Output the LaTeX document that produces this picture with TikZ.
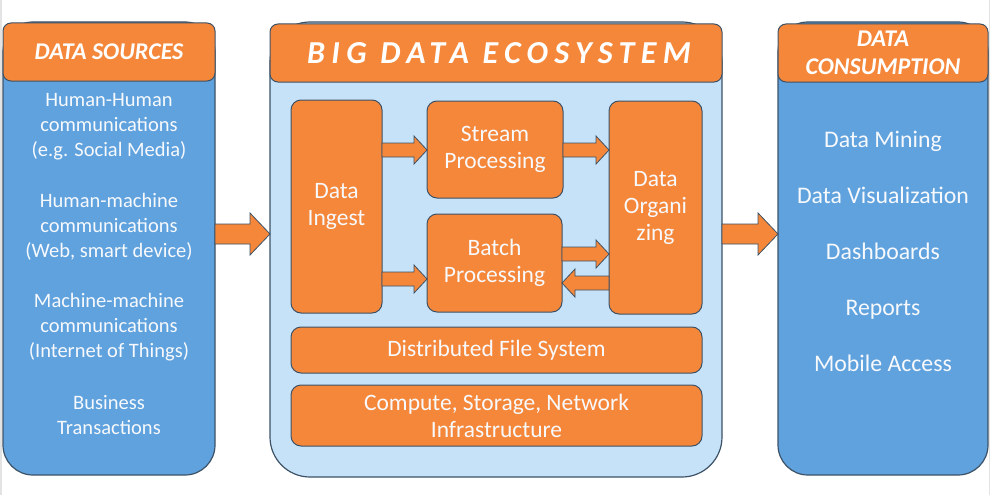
\documentclass[tikz,border=0pt]{standalone}
\usepackage{fontspec}
\setmainfont{Carlito}
\newfontfamily\widefont[LetterSpace=20]{Carlito}
\usetikzlibrary{calc}
\definecolor{orng}{HTML}{F5873A}
\definecolor{blu}{HTML}{5FA2DE}
\definecolor{lblu}{HTML}{C6E2F8}
\definecolor{edge}{HTML}{3D5266}
\definecolor{txt}{HTML}{F7F9FC}
\begin{document}
\begin{tikzpicture}[x=1pt,y=-1pt,
  panel/.style={draw=edge, line width=1.2pt, fill=blu, rounded corners=30pt, inner sep=0pt, outer sep=0pt},
  hdr/.style={draw=edge, line width=1pt, fill=orng, rounded corners=8pt, text=white, inner sep=0pt, outer sep=0pt,
    font=\fontsize{24}{28}\selectfont\bfseries\itshape, align=center},
  box/.style={draw=edge, line width=1pt, fill=orng, rounded corners=10pt, text=txt, inner sep=0pt, outer sep=0pt,
    font=\fontsize{23.5}{27}\selectfont, align=center},
  lbl/.style={text=txt, align=center, inner sep=0pt},
  srctxt/.style={lbl, font=\fontsize{20.5}{25}\selectfont},
  contxt/.style={lbl, font=\fontsize{23.8}{28}\selectfont, anchor=base},
  barrow/.style n args={3}{fill=orng, draw=edge, line width=0.8pt, line join=miter,
    to path={let \p1=(\tikztostart), \p2=(\tikztotarget), \n1={ifthenelse(\x2>\x1,1,-1)} in
      (\x1,\y1+#1) -- (\x2-\n1*#3,\y1+#1) -- (\x2-\n1*#3,\y1+#2) -- (\x2,\y1)
      -- (\x2-\n1*#3,\y1-#2) -- (\x2-\n1*#3,\y1-#1) -- (\x1,\y1-#1) -- cycle}},
  bigarrow/.style={barrow={10pt}{21pt}{20pt}},
  smallarrow/.style={barrow={7pt}{14pt}{13pt}}
]
\useasboundingbox (0,0) rectangle (992,495);
\fill[gray!22] (0,0) rectangle (2,495);
\fill[gray!22] (989,0) rectangle (990,495);

% left panel
\node[panel, minimum width=212pt, minimum height=453pt] (src) at (109,248.5) {};
\node[hdr, minimum width=212pt, minimum height=58pt] (srch) at (109,52) {DATA SOURCES};
\node[srctxt] (s1) at (109,127) {Human-Human\\communications\\(e.g. Social Media)};
\node[srctxt] (s2) at (109,227) {Human-machine\\communications\\(Web, smart device)};
\node[srctxt] (s3) at (109,327) {Machine-machine\\communications\\(Internet of Things)};
\node[srctxt] (s4) at (109,415) {Business\\Transactions};

% center panel
\node[panel, fill=lblu, rounded corners=40pt, minimum width=452pt, minimum height=455pt] (eco) at (496,249.5) {};
\node[hdr, minimum width=452pt, minimum height=58pt, font=\fontsize{32}{34}\selectfont\widefont\bfseries\itshape] (ecoh) at (496,53) {\hspace*{6pt}BIG DATA ECOSYSTEM};

\node[box, minimum width=91pt, minimum height=213pt] (ingest) at (336.5,206.5) {Data\\Ingest};
\node[box, minimum width=136pt, minimum height=97pt] (stream) at (495,149.5) {Stream\\Processing};
\node[box, minimum width=135pt, minimum height=98pt] (batch) at (494.5,263) {Batch\\Processing};
\node[box, minimum width=93pt, minimum height=213pt] (org) at (655.5,207.5) {Data\\Organi\\zing};
\node[box, minimum width=411pt, minimum height=46pt] (dfs) at (496.5,350) {Distributed File System};
\node[box, minimum width=411pt, minimum height=61pt] (comp) at (496.5,415.5) {Compute, Storage, Network\\Infrastructure};

% right panel
\node[panel, minimum width=210pt, minimum height=453pt] (cons) at (883,248.5) {};
\node[hdr, minimum width=210pt, minimum height=58pt] (consh) at (883,53) {DATA\\CONSUMPTION};
\node[contxt] (c1) at (883,147) {Data Mining};
\node[contxt] (c2) at (883,203) {Data Visualization};
\node[contxt] (c3) at (883,259) {Dashboards};
\node[contxt] (c4) at (883,315) {Reports};
\node[contxt] (c5) at (883,371) {Mobile Access};

% arrow rows
\coordinate (ybig) at (0,234);
\coordinate (ys) at (0,150);
\coordinate (yb) at (0,279);
\coordinate (ybo) at (0,254);
\coordinate (yob) at (0,283);

\draw[bigarrow] (src.east |- ybig) to (eco.west |- ybig);
\draw[bigarrow] (eco.east |- ybig) to (cons.west |- ybig);
\draw[smallarrow] (ingest.east |- ys) to (stream.west |- ys);
\draw[smallarrow] (stream.east |- ys) to (org.west |- ys);
\draw[smallarrow] (ingest.east |- yb) to (batch.west |- yb);
\draw[smallarrow] (batch.east |- ybo) to (org.west |- ybo);
\draw[smallarrow] (org.west |- yob) to (batch.east |- yob);
\end{tikzpicture}
\end{document}
